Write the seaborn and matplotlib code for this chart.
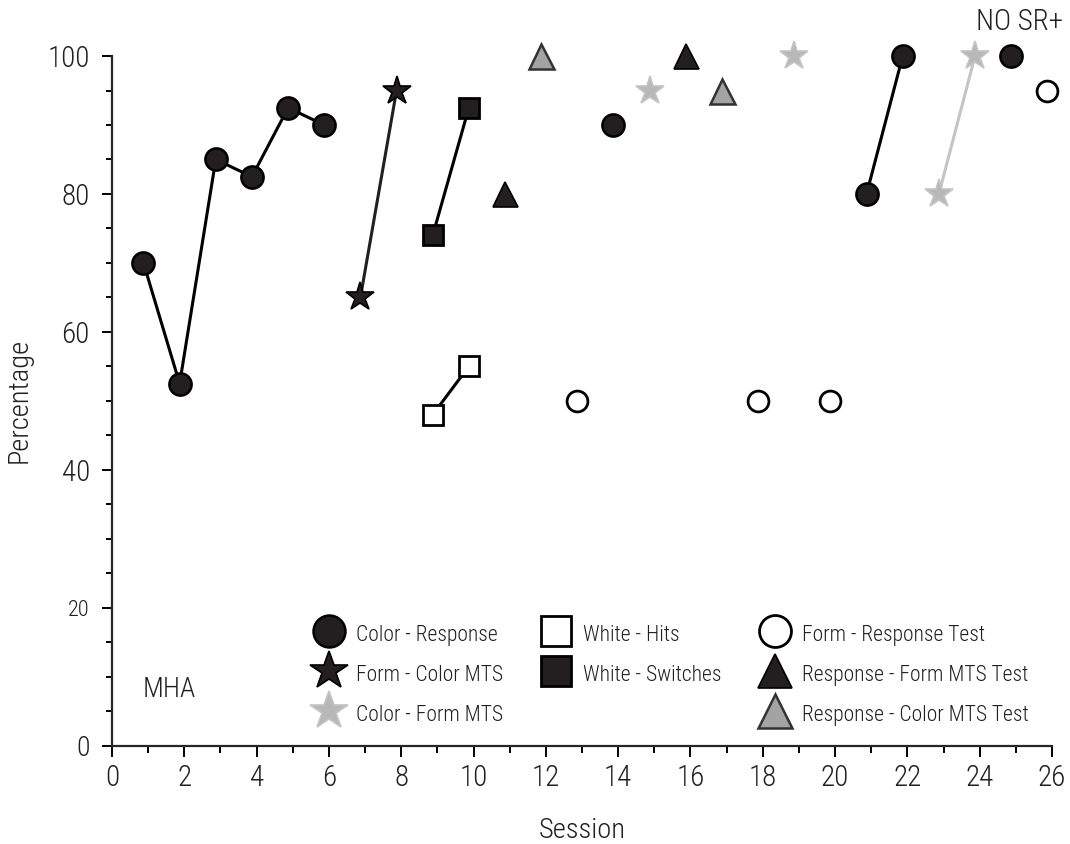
import pandas as pd
import matplotlib
matplotlib.use("Agg")
import matplotlib.pyplot as plt
from matplotlib.lines import Line2D
from matplotlib.ticker import MultipleLocator
import seaborn as sns

# ---- data (session, percentage, segment id for connecting lines) ----
cr_session = [1, 2, 3, 4, 5, 6, 14, 21, 22, 25]
cr_pct = [70, 52.5, 85, 82.5, 92.5, 90, 90, 80, 100, 100]
cr_seg = [0, 0, 0, 0, 0, 0, 1, 2, 2, 3]

fc_session = [7, 8]
fc_pct = [65, 95]
fc_seg = [0, 0]

cf_session = [15, 19, 23, 24]
cf_pct = [95, 100, 80, 100]
cf_seg = [0, 1, 2, 2]

wh_session = [9, 10]
wh_pct = [48, 55]
wh_seg = [0, 0]

ws_session = [9, 10]
ws_pct = [74, 92.5]
ws_seg = [0, 0]

frt_session = [13, 18, 20, 26]
frt_pct = [50, 50, 50, 95]
frt_seg = [0, 1, 2, 3]

rft_session = [11, 16]
rft_pct = [80, 100]
rft_seg = [0, 1]

rct_session = [12, 17]
rct_pct = [100, 95]
rct_seg = [0, 1]

# points sit slightly left of the integer ticks in the original
x_shift = -0.13

sns.set_style("ticks")
plt.rcParams["font.family"] = ["Roboto Condensed", "DejaVu Sans"]
plt.rcParams["font.weight"] = "light"
plt.rcParams["axes.labelweight"] = "light"

ink = "#231f20"
lgray = "#b8b8b8"
mgray = "#a3a3a3"

fig = plt.figure(figsize=(10.7, 8.44), dpi=100)
ax = fig.add_axes([0.1047, 0.1165, 0.8785, 0.8171])


def draw(sess, pct, seg, line_color, **mk):
    df = pd.DataFrame({"Session": [s + x_shift for s in sess], "Percentage": pct, "seg": seg})
    sns.lineplot(data=df, x="Session", y="Percentage", units="seg", estimator=None,
                 color=line_color, lw=2.2, clip_on=False, ax=ax, **mk)


draw(cr_session, cr_pct, cr_seg, "black", marker="o", ms=16, mfc=ink, mec="black", mew=1.8)
draw(fc_session, fc_pct, fc_seg, ink, marker="*", ms=21, mfc=ink, mec="black", mew=1.2)
draw(cf_session, cf_pct, cf_seg, "#c4c4c4", marker="*", ms=21, mfc=lgray, mec="#c4c4c4", mew=1.2)
draw(wh_session, wh_pct, wh_seg, "black", marker="s", ms=15, mfc="white", mec="black", mew=2)
draw(ws_session, ws_pct, ws_seg, "black", marker="s", ms=15, mfc=ink, mec="black", mew=2)
draw(frt_session, frt_pct, frt_seg, "black", marker="o", ms=15, mfc="white", mec="black", mew=2)
draw(rft_session, rft_pct, rft_seg, "black", marker="^", ms=18, mfc=ink, mec="black", mew=1.2)
draw(rct_session, rct_pct, rct_seg, "black", marker="^", ms=18, mfc=mgray, mec="#333333", mew=1.8)

ax.set_xlim(0, 26)
ax.set_ylim(0, 100)
ax.xaxis.set_major_locator(MultipleLocator(2))
ax.xaxis.set_minor_locator(MultipleLocator(1))
ax.yaxis.set_major_locator(MultipleLocator(20))
ax.yaxis.set_minor_locator(MultipleLocator(5))
ax.tick_params(axis="x", which="major", length=8, width=1.4, labelsize=21, colors="black",
               labelcolor=ink, pad=5)
ax.tick_params(axis="x", which="minor", length=5, width=1.4, colors="black")
ax.tick_params(axis="y", which="major", length=7, width=1.4, labelsize=21, colors="black",
               labelcolor=ink, pad=9)
ax.tick_params(axis="y", which="minor", length=4, width=1.4, colors="black")
for lab in ax.get_yticklabels():
    if lab.get_text() == "20":
        lab.set_fontsize(16)
    elif lab.get_text() == "0":
        lab.set_fontsize(20)
sns.despine(ax=ax)
for s in ["left", "bottom"]:
    ax.spines[s].set_linewidth(1.6)

ax.set_xlabel("Session", fontsize=20.5, color=ink, labelpad=18)
ax.set_ylabel("Percentage", fontsize=20.5, color=ink, labelpad=11)

ax.text(0.85, 8.1, "MHA", fontsize=20, color=ink, va="center", ha="left")
ax.text(23.9, 104.9, "NO SR+", fontsize=21, color=ink, va="center", ha="left", clip_on=False)

# ---- legend ----
h = [
    Line2D([], [], ls="none", marker="o", ms=23, mfc=ink, mec="black", mew=1.8),
    Line2D([], [], ls="none", marker="*", ms=29, mfc=ink, mec="black", mew=1.2),
    Line2D([], [], ls="none", marker="*", ms=29, mfc=lgray, mec="#c4c4c4", mew=1.2),
    Line2D([], [], ls="none", marker="s", ms=22, mfc="white", mec="black", mew=2),
    Line2D([], [], ls="none", marker="s", ms=22, mfc=ink, mec="black", mew=2),
    Line2D([], [], ls="none", marker="none"),
    Line2D([], [], ls="none", marker="o", ms=23, mfc="white", mec="black", mew=2),
    Line2D([], [], ls="none", marker="^", ms=25, mfc=ink, mec="black", mew=1.2),
    Line2D([], [], ls="none", marker="^", ms=25, mfc=mgray, mec="#333333", mew=1.8),
]
labels = ["Color - Response", "Form - Color MTS", "Color - Form MTS",
          "White - Hits", "White - Switches", "",
          "Form - Response Test", "Response - Form MTS Test", "Response - Color MTS Test"]
ax.legend(h, labels, ncol=3, loc="upper left", bbox_to_anchor=(0.2022, 0.1953),
          frameon=False, fontsize=15.5, borderpad=0, handlelength=1.5, handleheight=1.3,
          handletextpad=0.5, labelspacing=0.75, columnspacing=1.72, labelcolor=ink)

fig.savefig("out.png", dpi=100)
